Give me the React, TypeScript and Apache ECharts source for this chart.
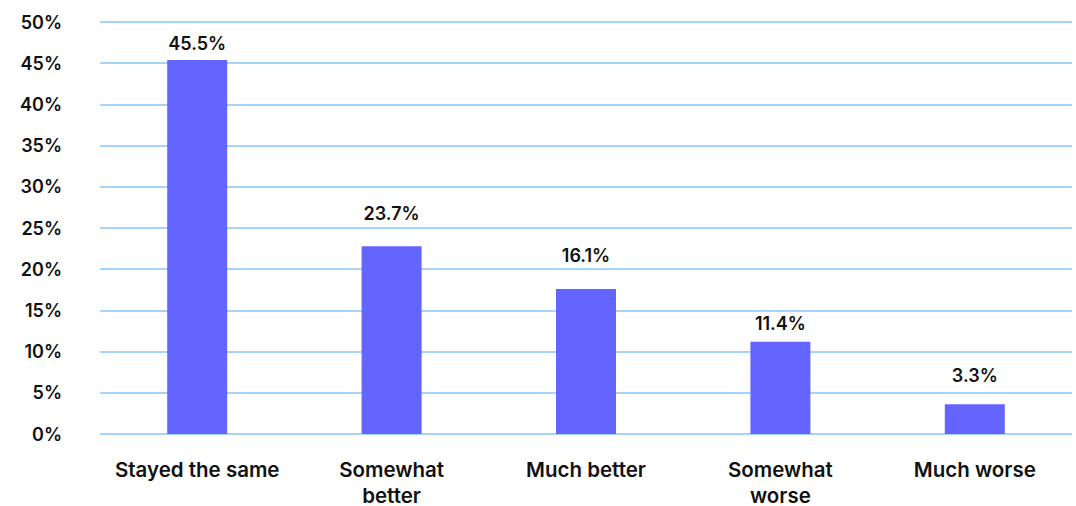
import React, { useEffect, useRef } from "react";
import * as echarts from "echarts";

const categories = ["Stayed the same", "Somewhat\nbetter", "Much better", "Somewhat\nworse", "Much worse"];
const values = [45.4, 22.8, 17.6, 11.2, 3.6];
const valueLabels = ["45.5%", "23.7%", "16.1%", "11.4%", "3.3%"];
const labelGaps = [7, 24, 24, 9, 20];

const FONT = "Inter, 'Noto Sans', sans-serif";

export default function App() {
  const ref = useRef<HTMLDivElement>(null);
  useEffect(() => {
    if (!ref.current) return;
    const chart = echarts.init(ref.current, undefined, { renderer: "svg" });
    chart.setOption({
      animation: false,
      grid: { left: 100, right: 4, top: 22, bottom: 72, outerBoundsMode: "none", containLabel: false },
      xAxis: {
        type: "category",
        data: categories,
        axisLine: { show: false },
        axisTick: { show: false },
        axisLabel: {
          margin: 22,
          color: "#111",
          fontFamily: FONT,
          fontWeight: 600,
          fontSize: 20.5,
          lineHeight: 26,
          interval: 0,
        },
      },
      yAxis: {
        type: "value",
        min: 0,
        max: 50,
        interval: 5,
        axisLine: { show: false },
        axisTick: { show: false },
        splitLine: { lineStyle: { color: "#a6d3fb", width: 2 } },
        axisLabel: {
          formatter: "{value}%",
          margin: 38,
          padding: [0, 0, 14, 0],
          color: "#111",
          fontFamily: FONT,
          fontWeight: 600,
          fontSize: 18,
        },
      },
      series: [
        {
          type: "bar",
          barWidth: 60,
          itemStyle: { color: "#6464ff" },
          data: values.map((v, i) => ({
            value: v,
            label: {
              show: true,
              position: "top",
              distance: labelGaps[i],
              formatter: valueLabels[i],
              color: "#111",
              fontFamily: FONT,
              fontWeight: 600,
              fontSize: 18,
            },
          })),
        },
      ],
    });
    return () => chart.dispose();
  }, []);
  return (
    <div
      ref={ref}
      style={{ position: "fixed", left: 0, top: 0, width: 1076, height: 506, background: "#fff" }}
    />
  );
}
